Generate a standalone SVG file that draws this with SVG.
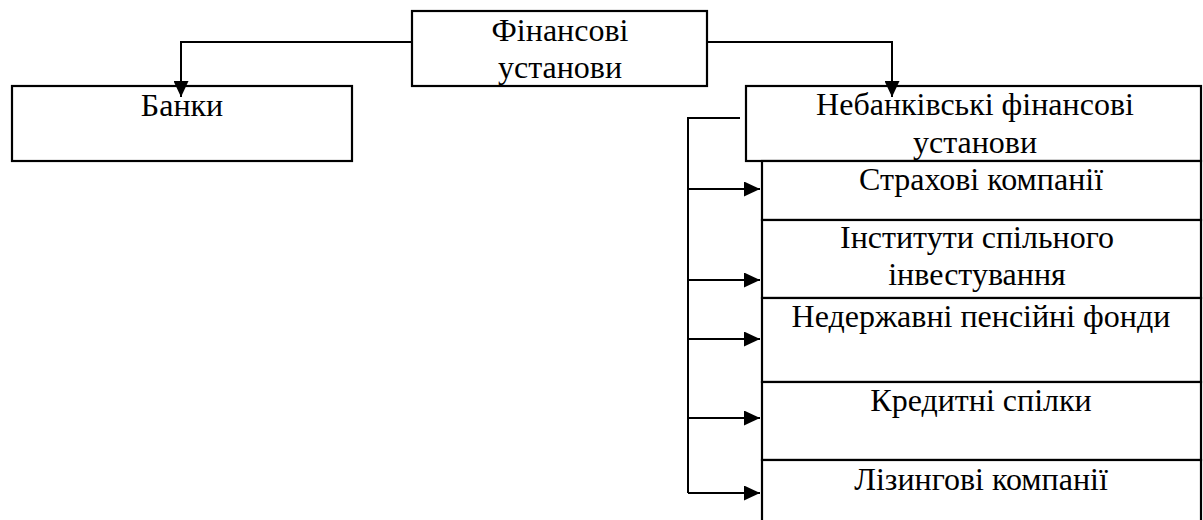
<svg xmlns="http://www.w3.org/2000/svg" width="1203" height="520" viewBox="0 0 1203 520">
<style>
.box{fill:#fff;stroke:#000;stroke-width:2.2}
.t{font-size:32px;fill:#000;text-anchor:middle}
.c{fill:none;stroke:#000;stroke-width:2}
</style>
<defs>
<marker id="ah" markerUnits="userSpaceOnUse" markerWidth="17" markerHeight="15" refX="16" refY="7.5" orient="auto" viewBox="0 0 17 15">
<path d="M0,0 L16,7.5 L0,15 z" fill="#000"/>
</marker>
</defs>
<rect width="1203" height="520" fill="#fff"/>
<g font-family="Liberation Serif, DejaVu Serif, serif">
<g id="banks"><rect class="box" x="12" y="86" width="340" height="75"/><text class="t" x="182" y="116">Банки</text></g>
<g id="nonbank"><rect class="box" x="746" y="86" width="455" height="75"/><text class="t" x="975" y="115">Небанківські фінансові</text><text class="t" x="975" y="153">установи</text></g>
<g id="insurance"><rect class="box" x="762" y="161" width="439" height="59"/><text class="t" x="981" y="190">Страхові компанії</text></g>
<g id="collective"><rect class="box" x="762" y="220" width="439" height="78"/><text class="t" x="977" y="248">Інститути спільного</text><text class="t" x="977" y="285">інвестування</text></g>
<g id="pension"><rect class="box" x="762" y="298" width="439" height="84"/><text class="t" x="981" y="327">Недержавні пенсійні фонди</text></g>
<g id="credit"><rect class="box" x="762" y="382" width="439" height="78"/><text class="t" x="981" y="411">Кредитні спілки</text></g>
<g id="leasing"><rect class="box" x="762" y="460" width="439" height="70"/><text class="t" x="981" y="490">Лізингові компанії</text></g>
<g id="connectors">
<path class="c" d="M412,42 H181 V97" marker-end="url(#ah)"/>
<path class="c" d="M707,42 H892 V97" marker-end="url(#ah)"/>
<path class="c" d="M740,118 H688 V493"/>
<path class="c" d="M688,189 H760" marker-end="url(#ah)"/>
<path class="c" d="M688,280 H760" marker-end="url(#ah)"/>
<path class="c" d="M688,339 H760" marker-end="url(#ah)"/>
<path class="c" d="M688,418 H760" marker-end="url(#ah)"/>
<path class="c" d="M688,493 H760" marker-end="url(#ah)"/>
</g>
<g id="financial"><rect class="box" x="412" y="11" width="295" height="75"/><text class="t" x="560" y="41">Фінансові</text><text class="t" x="560" y="78">установи</text></g>
</g>
</svg>
